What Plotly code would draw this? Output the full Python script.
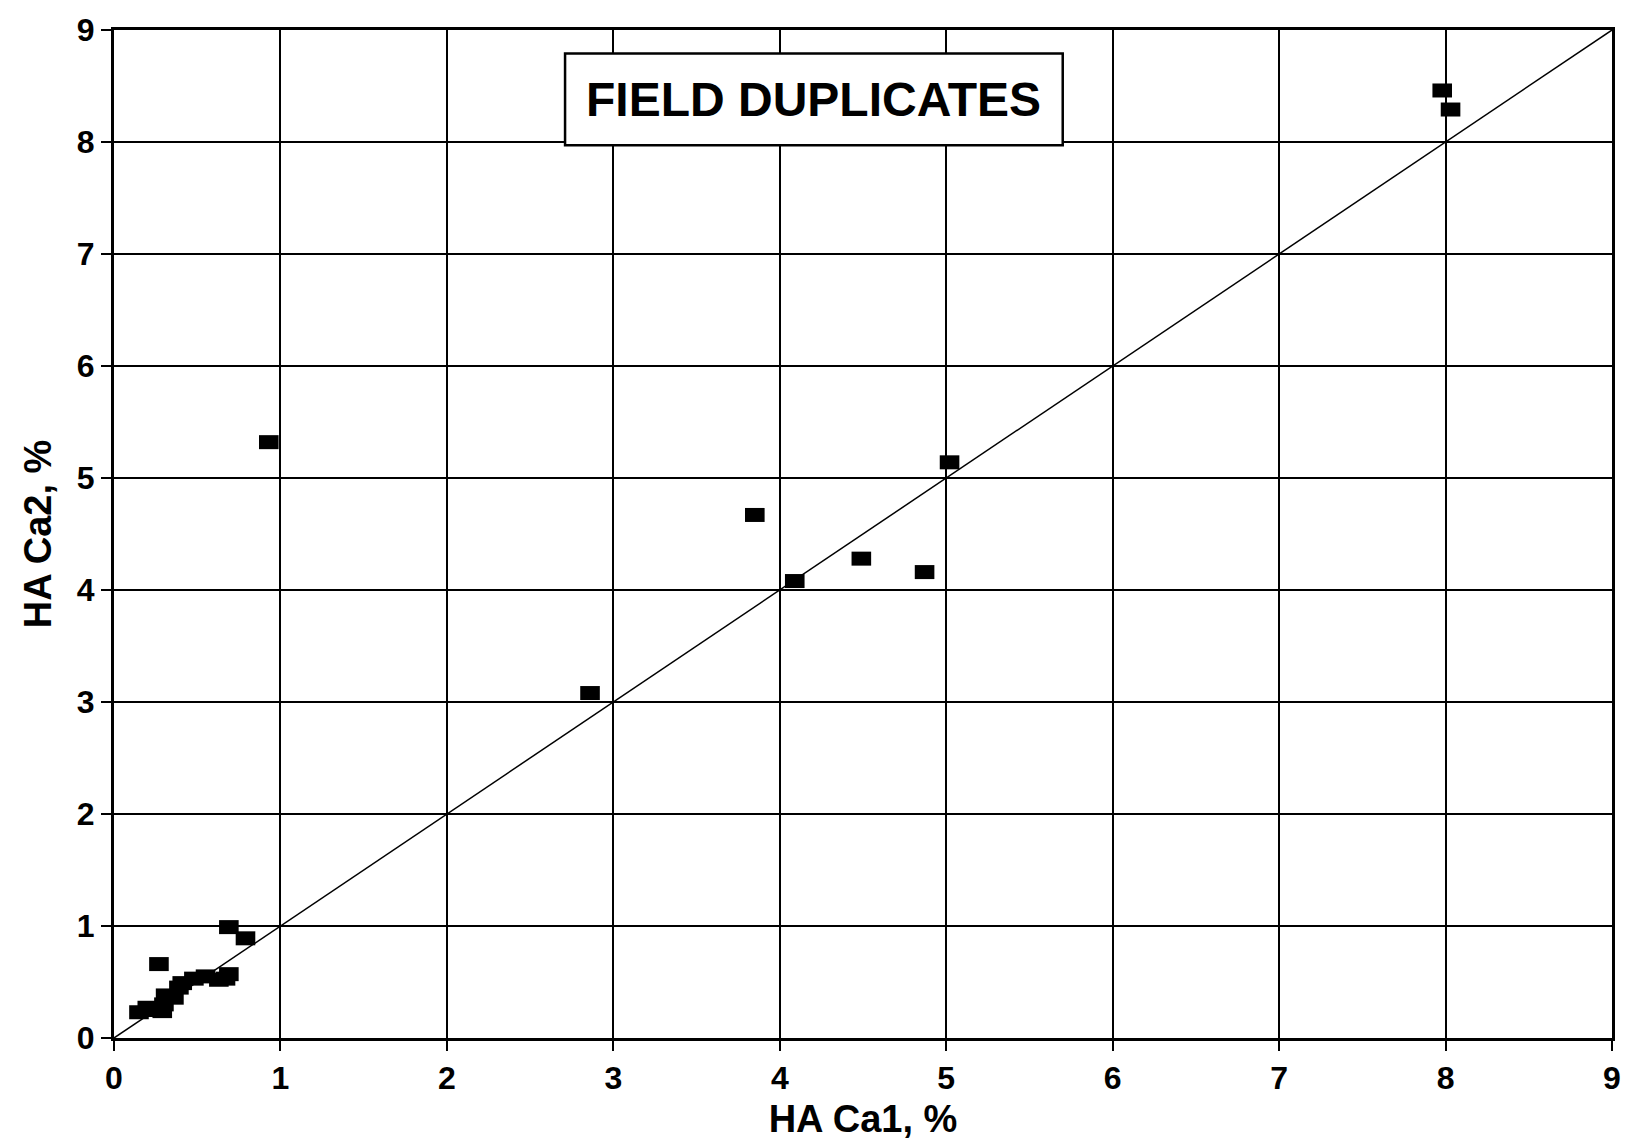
import plotly.graph_objects as go

# Field duplicate pairs: HA Ca1 (%) vs HA Ca2 (%)
ca1 = [0.15, 0.20, 0.24, 0.29, 0.30, 0.31, 0.36, 0.39, 0.41, 0.48, 0.55, 0.63, 0.67, 0.69,
       0.27, 0.69, 0.79, 0.93, 2.86, 3.85, 4.09, 4.49, 4.87, 5.02, 7.98, 8.03]
ca2 = [0.23, 0.27, 0.25, 0.24, 0.30, 0.38, 0.36, 0.45, 0.49, 0.53, 0.55, 0.52, 0.53, 0.57,
       0.66, 0.99, 0.89, 5.32, 3.08, 4.67, 4.08, 4.28, 4.16, 5.14, 8.46, 8.29]

line_x = [0, 9]
line_y = [0, 9]
ticks = [0, 1, 2, 3, 4, 5, 6, 7, 8, 9]
tick_labels = [str(t) for t in ticks]
title_text = "FIELD DUPLICATES"

FONT = "Arial, 'Liberation Sans', Helvetica, sans-serif"

fig = go.Figure()
fig.add_trace(go.Scatter(x=line_x, y=line_y, mode="lines",
                         line=dict(color="black", width=1.5), hoverinfo="skip",
                         showlegend=False))
fig.add_trace(go.Scatter(x=ca1, y=ca2, mode="markers",
                         marker=dict(symbol="line-ew", size=14,
                                     line=dict(color="black", width=14)),
                         showlegend=False))

axis_common = dict(range=[0, 9], tickvals=ticks, ticktext=tick_labels,
                   showgrid=True, gridcolor="black", gridwidth=1.8,
                   showline=True, linecolor="black", linewidth=3, mirror=True,
                   ticks="outside", ticklen=10, tickwidth=2, tickcolor="black",
                   zeroline=False,
                   tickfont=dict(family=FONT, size=32, color="black", weight="bold"))

fig.update_xaxes(**axis_common,
                 title=dict(text="HA Ca1, %", standoff=10,
                            font=dict(family=FONT, size=38, color="black", weight="bold")))
fig.update_yaxes(**axis_common,
                 title=dict(text="HA Ca2, %", standoff=14,
                            font=dict(family=FONT, size=38, color="black", weight="bold")))

fig.add_shape(type="rect", xref="x", yref="y", x0=2.71, x1=5.70, y0=7.97, y1=8.79,
              line=dict(color="black", width=2.5), fillcolor="white", layer="above")
fig.add_annotation(x=4.205, y=8.38, xref="x", yref="y", text=title_text, showarrow=False,
                   font=dict(family=FONT, size=48, color="black", weight="bold"))

fig.update_layout(width=1633, height=1145, plot_bgcolor="white", paper_bgcolor="white",
                  margin=dict(l=114, r=14, t=21, b=99))

fig.write_html("out.html")
